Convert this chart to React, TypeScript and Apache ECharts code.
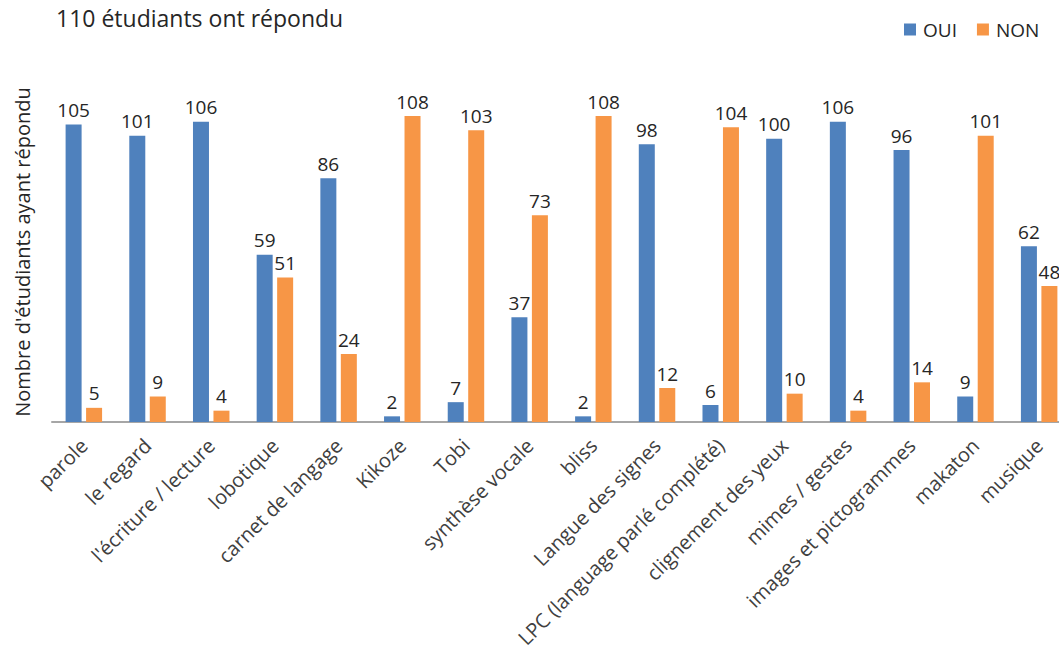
import React, { useEffect, useRef } from "react";
import * as echarts from "echarts";

const categories = [
  "parole",
  "le regard",
  "l'écriture / lecture",
  "lobotique",
  "carnet de langage",
  "Kikoze",
  "Tobi",
  "synthèse vocale",
  "bliss",
  "Langue des signes",
  "LPC (language parlé complété)",
  "clignement des yeux",
  "mimes / gestes",
  "images et pictogrammes",
  "makaton",
  "musique",
];
const ouiValues = [105, 101, 106, 59, 86, 2, 7, 37, 2, 98, 6, 100, 106, 96, 9, 62];
const nonValues = [5, 9, 4, 51, 24, 108, 103, 73, 108, 12, 104, 10, 4, 14, 101, 48];
const seriesNames = ["OUI", "NON"];
const titleText = "110 étudiants ont répondu";
const yAxisName = "Nombre d'étudiants ayant répondu";

const FONT = "'Open Sans', sans-serif";

export default function App() {
  const ref = useRef<HTMLDivElement>(null);
  useEffect(() => {
    if (!ref.current) return;
    const chart = echarts.init(ref.current, undefined, { renderer: "svg" });
    const labelStyle = {
      show: true,
      position: "top" as const,
      distance: 5,
      color: "#262626",
      fontSize: 19,
      fontFamily: FONT,
    };
    chart.setOption({
      animation: false,
      backgroundColor: "#ffffff",
      title: {
        text: titleText,
        left: 56,
        top: 4,
        padding: 0,
        textStyle: {
          fontFamily: FONT,
          fontSize: 23,
          lineHeight: 28,
          fontWeight: "normal",
          color: "#262626",
        },
      },
      legend: {
        data: seriesNames,
        left: 899,
        top: 15,
        itemWidth: 12,
        itemHeight: 12,
        itemGap: 20,
        icon: "rect",
        textStyle: { fontFamily: FONT, fontSize: 19, color: "#262626", padding: [0, 0, 0, 2] },
      },
      grid: { left: 52, width: 1019, top: 82, bottom: 235, containLabel: false },
      xAxis: {
        type: "category",
        data: categories,
        axisLine: { show: true, lineStyle: { color: "#a6a6a6", width: 2 } },
        axisTick: { show: false },
        axisLabel: {
          rotate: 45,
          interval: 0,
          margin: 20,
          color: "#404040",
          fontSize: 20,
          fontFamily: FONT,
        },
      },
      yAxis: {
        type: "value",
        min: 0,
        max: 120,
        name: yAxisName,
        nameLocation: "middle",
        nameGap: 20,
        nameTextStyle: { fontFamily: FONT, fontSize: 20, color: "#262626" },
        axisLine: { show: false },
        axisTick: { show: false },
        axisLabel: { show: false },
        splitLine: { show: false },
      },
      series: [
        {
          name: seriesNames[0],
          type: "bar",
          data: ouiValues,
          barWidth: 16,
          barGap: "28%",
          itemStyle: { color: "#4f81bd" },
          label: labelStyle,
        },
        {
          name: seriesNames[1],
          type: "bar",
          data: nonValues,
          barWidth: 16,
          barGap: "28%",
          itemStyle: { color: "#f79646" },
          label: labelStyle,
        },
      ],
    });
    return () => chart.dispose();
  }, []);
  return (
    <div
      style={{
        position: "fixed",
        left: 0,
        top: 0,
        width: 1059,
        height: 657,
        overflow: "hidden",
        background: "#fff",
      }}
    >
      <div ref={ref} style={{ width: 1090, height: 657 }} />
    </div>
  );
}
